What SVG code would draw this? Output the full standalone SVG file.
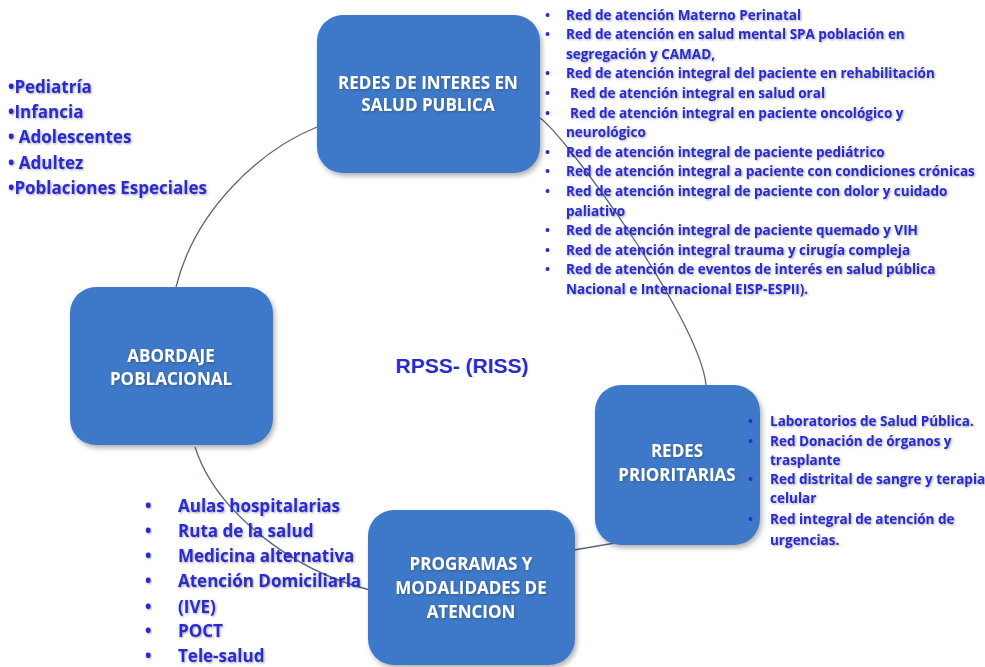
<svg xmlns="http://www.w3.org/2000/svg" width="985" height="667" viewBox="0 0 985 667">
<defs>
<filter id="bs" x="-10%" y="-10%" width="125%" height="125%">
<feDropShadow dx="2" dy="3" stdDeviation="2.5" flood-color="#000" flood-opacity="0.3"/>
</filter>
<filter id="ts" x="-5%" y="-20%" width="110%" height="150%">
<feDropShadow dx="1" dy="1" stdDeviation="0.8" flood-color="#333" flood-opacity="0.45"/>
</filter>
</defs>
<style>
.box{fill:#3d79c8;filter:url(#bs)}
.bt{font-family:"Open Sans",Lato,"Liberation Sans",sans-serif;font-weight:bold;font-size:17px;fill:#ffffff;text-anchor:middle;filter:url(#ts)}
.li{font-family:"Open Sans",Lato,"Liberation Sans",sans-serif;font-weight:bold;font-size:13.5px;fill:#2a2ad2;filter:url(#ts)}
.lg{font-family:"Open Sans",Lato,"Liberation Sans",sans-serif;font-weight:bold;font-size:17px;fill:#2a2ad2;filter:url(#ts)}
.bu{font-family:"Open Sans",Lato,"Liberation Sans",sans-serif;font-weight:bold;font-size:13px;fill:#2a2ad2}
.conn{fill:none;stroke:#5a6680;stroke-width:1.3}
</style>
<rect width="985" height="667" fill="#ffffff"/>
<g id="connectors">
<path class="conn" d="M540,118 C565,135 700,320 706,385"/>
<path class="conn" d="M317,127 C260,150 195,210 176,287"/>
<path class="conn" d="M195,447 C215,510 290,570 370,590"/>
<path class="conn" d="M574,550 L615,543"/>
</g>
<g id="redes-interes">
<rect class="box" x="317" y="15" width="223" height="158" rx="26"/>
<text class="bt" x="428" y="89">REDES DE INTERES EN</text>
<text class="bt" x="428" y="111">SALUD PUBLICA</text>
</g>
<g id="abordaje">
<rect class="box" x="70" y="287" width="203" height="158" rx="26"/>
<text class="bt" x="171" y="362">ABORDAJE</text>
<text class="bt" x="171" y="385">POBLACIONAL</text>
</g>
<g id="redes-prioritarias">
<rect class="box" x="595" y="385" width="165" height="160" rx="26"/>
<text class="bt" x="677" y="457">REDES</text>
<text class="bt" x="677" y="481">PRIORITARIAS</text>
</g>
<g id="programas">
<rect class="box" x="368" y="510" width="207" height="155" rx="26"/>
<text class="bt" x="471" y="570">PROGRAMAS Y</text>
<text class="bt" x="471" y="594">MODALIDADES DE</text>
<text class="bt" x="471" y="618">ATENCION</text>
</g>
<g id="rpss">
<text x="462" y="373" style="font-family:'Liberation Sans',Arial,sans-serif;font-weight:bold;font-size:21px;fill:#2a2ad2" text-anchor="middle">RPSS- (RISS)</text>
</g>
<g id="lista-redes-interes">
<text class="bu" x="545" y="19.5">•</text><text class="li" x="566" y="19.5">Red de atención Materno Perinatal</text>
<text class="bu" x="545" y="39.1">•</text><text class="li" x="566" y="39.1">Red de atención en salud mental SPA población en</text>
<text class="li" x="566" y="58.7">segregación y CAMAD,</text>
<text class="bu" x="545" y="78.3">•</text><text class="li" x="566" y="78.3">Red de atención integral del paciente en rehabilitación</text>
<text class="bu" x="545" y="97.9">•</text><text class="li" x="570" y="97.9">Red de atención integral en salud oral</text>
<text class="bu" x="545" y="117.5">•</text><text class="li" x="570" y="117.5">Red de atención integral en paciente oncológico y</text>
<text class="li" x="566" y="137.1">neurológico</text>
<text class="bu" x="545" y="156.7">•</text><text class="li" x="566" y="156.7">Red de atención integral de paciente pediátrico</text>
<text class="bu" x="545" y="176.3">•</text><text class="li" x="566" y="176.3">Red de atención integral a paciente con condiciones crónicas</text>
<text class="bu" x="545" y="195.9">•</text><text class="li" x="566" y="195.9">Red de atención integral de paciente con dolor y cuidado</text>
<text class="li" x="566" y="215.5">paliativo</text>
<text class="bu" x="545" y="235.1">•</text><text class="li" x="566" y="235.1">Red de atención integral de paciente quemado y VIH</text>
<text class="bu" x="545" y="254.7">•</text><text class="li" x="566" y="254.7">Red de atención integral trauma y cirugía compleja</text>
<text class="bu" x="545" y="274.3">•</text><text class="li" x="566" y="274.3">Red de atención de eventos de interés en salud pública</text>
<text class="li" x="566" y="293.9">Nacional e Internacional EISP-ESPII).</text>
</g>
<g id="lista-poblacional">
<text class="lg" x="8" y="93">•Pediatría</text>
<text class="lg" x="8" y="118">•Infancia</text>
<text class="lg" x="8" y="143">• Adolescentes</text>
<text class="lg" x="8" y="169">• Adultez</text>
<text class="lg" x="8" y="194">•Poblaciones Especiales</text>
</g>
<g id="lista-prioritarias">
<text class="bu" x="748" y="426">•</text><text class="li" x="770" y="426">Laboratorios de Salud Pública.</text>
<text class="bu" x="748" y="446">•</text><text class="li" x="770" y="446">Red Donación de órganos y</text>
<text class="li" x="770" y="465">trasplante</text>
<text class="bu" x="748" y="484">•</text><text class="li" x="770" y="484">Red distrital de sangre y terapia</text>
<text class="li" x="770" y="503">celular</text>
<text class="bu" x="748" y="524">•</text><text class="li" x="770" y="524">Red integral de atención de</text>
<text class="li" x="770" y="545">urgencias.</text>
</g>
<g id="lista-programas">
<text class="lg" x="145" y="512">•</text><text class="lg" x="178" y="512">Aulas hospitalarias</text>
<text class="lg" x="145" y="537">•</text><text class="lg" x="178" y="537">Ruta de la salud</text>
<text class="lg" x="145" y="562">•</text><text class="lg" x="178" y="562">Medicina alternativa</text>
<text class="lg" x="145" y="587">•</text><text class="lg" x="178" y="587">Atención Domiciliarla</text>
<text class="lg" x="145" y="613">•</text><text class="lg" x="178" y="613">(IVE)</text>
<text class="lg" x="145" y="637">•</text><text class="lg" x="178" y="637">POCT</text>
<text class="lg" x="145" y="662">•</text><text class="lg" x="178" y="662">Tele-salud</text>
</g>
</svg>
